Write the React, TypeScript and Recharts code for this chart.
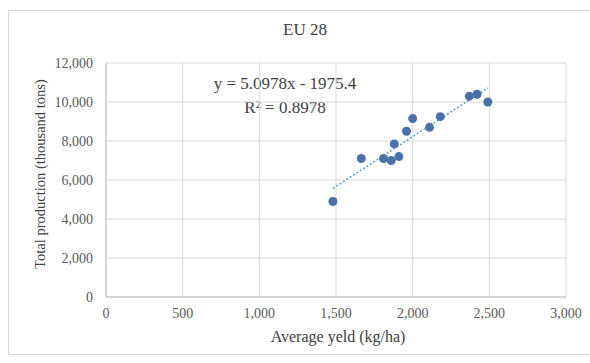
import { ScatterChart, Scatter, XAxis, YAxis, CartesianGrid } from "recharts";

// yield (kg/ha) vs total production (thousand tons)
const yieldValues = [1480, 1665, 1810, 1860, 1910, 1880, 1960, 2000, 2110, 2180, 2370, 2420, 2490];
const productionValues = [4900, 7100, 7100, 7000, 7200, 7850, 8500, 9150, 8700, 9250, 10300, 10400, 10000];

// trendline ends as drawn (y = 5.0978x - 1975.4)
const trendX = [1480, 2490];
const trendY = [5570, 10720];

const xTicks = [0, 500, 1000, 1500, 2000, 2500, 3000];
const yTicks = [0, 2000, 4000, 6000, 8000, 10000, 12000];

const points = yieldValues.map((x, i) => ({ x, y: productionValues[i] }));
const trend = trendX.map((x, i) => ({ x, y: trendY[i] }));

const font = "Liberation Serif";
const fmt = (v: number) => v.toLocaleString("en-US");

function XTick({ x, y, payload }: any) {
    return (
        <text x={x} y={y + 10} textAnchor="middle" fontFamily={font} fontSize={14} fill="#595959">
            {fmt(payload.value)}
        </text>
    );
}

function YTick({ x, y, payload }: any) {
    return (
        <text x={x} y={y + 5} textAnchor="end" fontFamily={font} fontSize={14} fill="#595959">
            {fmt(payload.value)}
        </text>
    );
}

export default function App() {
    return (
        <div style={{ position: "absolute", left: 0, top: 0, width: 590, height: 363, background: "#fff", fontFamily: font }}>
            <div style={{ position: "absolute", left: 8, top: 10, width: 590, height: 345, border: "1px solid #d9d9d9", boxSizing: "border-box" }} />
            <div style={{ position: "absolute", left: 205, width: 200, top: 19, textAlign: "center", fontSize: 17, lineHeight: "22px", color: "#404040" }}>EU 28</div>
            <div style={{ position: "absolute", left: 185, width: 200, top: 72, textAlign: "center", fontSize: 17, lineHeight: "24px", color: "#404040" }}>
                <div>y = 5.0978x - 1975.4</div>
                <div>R² = 0.8978</div>
            </div>
            <div style={{ position: "absolute", left: 238, width: 200, top: 326, textAlign: "center", fontSize: 16, lineHeight: "22px", color: "#404040" }}>Average yeld (kg/ha)</div>
            <div
                style={{
                    position: "absolute", left: 40, top: 174, width: 300, marginLeft: -150, marginTop: -11,
                    textAlign: "center", fontSize: 14.5, lineHeight: "22px", color: "#404040", transform: "rotate(-90deg)",
                }}
            >
                Total production (thousand tons)
            </div>
            <ScatterChart width={590} height={363} margin={{ top: 63, right: 24, bottom: 36, left: 46 }} style={{ position: "absolute", left: 0, top: 0 }}>
                <CartesianGrid stroke="#d9d9d9" />
                <XAxis
                    type="number" dataKey="x" domain={[0, 3000]} ticks={xTicks}
                    height={30} tickLine={false} stroke="#bfbfbf" tick={<XTick />} tickMargin={5}
                />
                <YAxis
                    type="number" dataKey="y" domain={[0, 12000]} ticks={yTicks}
                    width={60} tickLine={false} stroke="#bfbfbf" tick={<YTick />} tickMargin={7}
                />
                <Scatter data={trend} line={{ stroke: "#5b9bd5", strokeWidth: 1.5, strokeDasharray: "2 2" }} shape={() => null} isAnimationActive={false} />
                <Scatter data={points} fill="#4a72a8" shape={(p: any) => <circle cx={p.cx} cy={p.cy} r={4.5} fill="#4a72a8" />} isAnimationActive={false} />
            </ScatterChart>
        </div>
    );
}
